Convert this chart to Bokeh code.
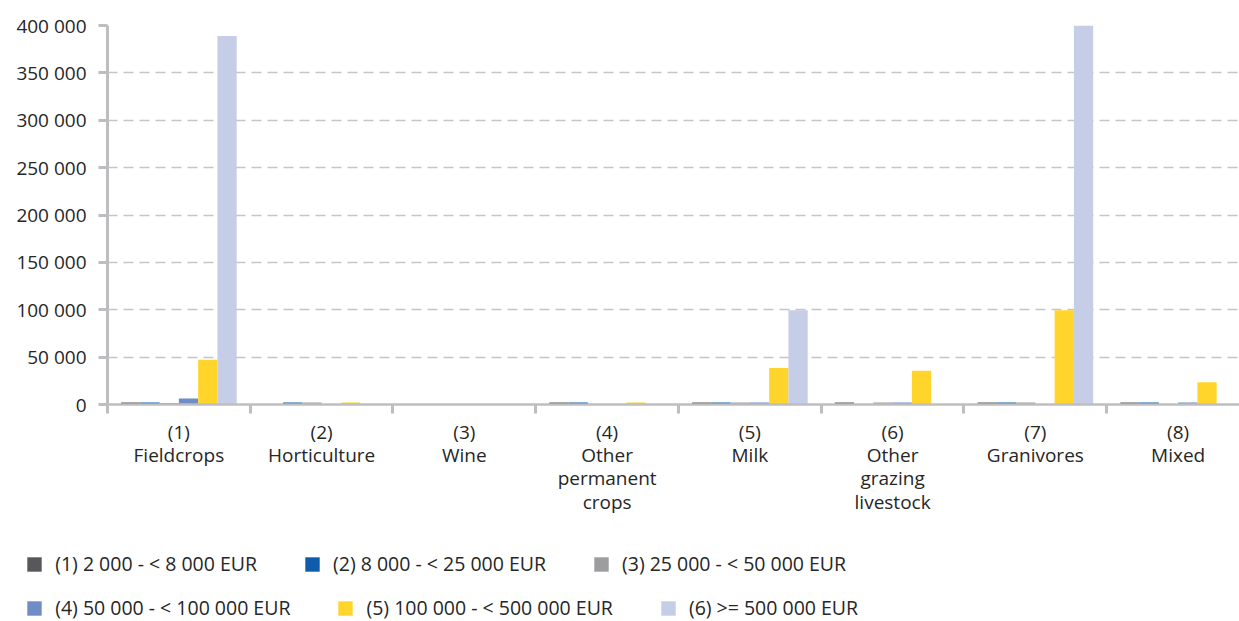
from bokeh.plotting import figure
from bokeh.layouts import column
from bokeh.models import Range1d, FixedTicker, Legend, LegendItem
from bokeh.embed import file_html
from bokeh.resources import INLINE

# ---------------- data ----------------
categories = ["(1)\nFieldcrops", "(2)\nHorticulture", "(3)\nWine",
              "(4)\nOther\npermanent\ncrops", "(5)\nMilk",
              "(6)\nOther\ngrazing\nlivestock", "(7)\nGranivores", "(8)\nMixed"]
series_labels = ["(1) 2 000 - < 8 000 EUR", "(2) 8 000 - < 25 000 EUR",
                 "(3) 25 000 - < 50 000 EUR", "(4) 50 000 - < 100 000 EUR",
                 "(5) 100 000 - < 500 000 EUR", "(6) >= 500 000 EUR"]
s1 = [2000, 0, 0, 2000, 2000, 2000, 2000, 2000]
s2 = [2000, 2000, 0, 2000, 2000, 0, 2000, 2000]
s3 = [1500, 2000, 0, 0, 2000, 2000, 2000, 0]
s4 = [6400, 0, 0, 0, 2000, 2000, 0, 2000]
s5 = [47200, 2000, 0, 2000, 38600, 35700, 99500, 23600]
s6 = [388800, 0, 0, 0, 99500, 0, 401000, 0]
y_ticks = [0, 50000, 100000, 150000, 200000, 250000, 300000, 350000, 400000]

series = [s1, s2, s3, s4, s5, s6]
colors = ["#58585A", "#0F5CAB", "#9D9D9F", "#6F8CC7", "#FFD52B", "#C6CDE6"]

FONT = "Open Sans"
FS = "19px"
TXT = "#262626"
AX = "#BEBEC1"

n = len(categories)
MAIN_H = 530
p = figure(width=1239, height=MAIN_H, output_backend="svg", toolbar_location=None,
           x_range=Range1d(0, 7.93), y_range=Range1d(0, 400000),
           min_border_left=107, min_border_top=25, min_border_right=0,
           min_border_bottom=MAIN_H - 404)
p.frame_align = False
p.outline_line_color = None
p.background_fill_color = "white"

bw = 0.135
for j, (vals, col) in enumerate(zip(series, colors)):
    xs = [i + 0.5 + (j - 2.5) * bw for i in range(n)]
    p.vbar(x=xs, top=vals, width=bw, fill_color=col, line_color=None)

# y axis
p.yaxis.ticker = FixedTicker(ticks=y_ticks)
p.yaxis.major_label_overrides = {v: f"{v:,}".replace(",", " ") for v in y_ticks}
p.yaxis.axis_line_color = AX
p.yaxis.axis_line_width = 3
p.yaxis.major_tick_line_color = AX
p.yaxis.major_tick_line_width = 3
p.yaxis.major_tick_out = 9
p.yaxis.major_tick_in = 0
p.yaxis.minor_tick_line_color = None
p.yaxis.major_label_standoff = 12
p.yaxis.major_label_text_font = FONT
p.yaxis.major_label_text_font_size = FS
p.yaxis.major_label_text_color = TXT

# x axis: labels at centers, ticks at boundaries
centers = [i + 0.5 for i in range(n)]
bounds = [float(i) for i in range(n + 1)]
p.xaxis.ticker = FixedTicker(ticks=centers, minor_ticks=bounds)
p.xaxis.major_label_overrides = {c: lab for c, lab in zip(centers, categories)}
p.xaxis.axis_line_color = AX
p.xaxis.axis_line_width = 2.5
p.xaxis.major_tick_line_color = None
p.xaxis.major_tick_out = 0
p.xaxis.major_tick_in = 0
p.xaxis.minor_tick_line_color = AX
p.xaxis.minor_tick_line_width = 3
p.xaxis.minor_tick_out = 9
p.xaxis.minor_tick_in = 0
p.xaxis.major_label_standoff = 5
p.xaxis.major_label_text_font = FONT
p.xaxis.major_label_text_font_size = FS
p.xaxis.major_label_text_color = TXT
p.xaxis.major_label_text_line_height = 0.9

p.xgrid.visible = False
p.ygrid.ticker = FixedTicker(ticks=y_ticks[1:])
p.ygrid.grid_line_color = "#C6C6C6"
p.ygrid.grid_line_width = 1.5
p.ygrid.grid_line_dash = "10 6"

# ---------------- legend strip ----------------
LEG_H = 621 - MAIN_H
lf = figure(width=1239, height=LEG_H, output_backend="svg", toolbar_location=None,
            x_range=Range1d(0, 1), y_range=Range1d(0, 1),
            min_border=0, min_border_left=0, min_border_right=0,
            min_border_top=0, min_border_bottom=0)
lf.frame_align = False
lf.axis.visible = False
lf.grid.visible = False
lf.outline_line_color = None
lf.border_fill_color = "white"

# zero-height stand-in renderers that only carry the legend colours
leg_renderers = [lf.vbar(x=[0.5], top=[0], width=0.1, fill_color=c, line_color=None) for c in colors]


def make_legend(idx, loc):
    leg = Legend(items=[LegendItem(label=series_labels[k], renderers=[leg_renderers[k]]) for k in idx],
                 location=loc, orientation="horizontal")
    leg.border_line_color = None
    leg.background_fill_alpha = 0
    leg.padding = 0
    leg.margin = 0
    leg.spacing = 46
    leg.glyph_width = 18
    leg.glyph_height = 18
    leg.label_standoff = 12
    leg.label_text_font = FONT
    leg.label_text_font_size = "19.5px"
    leg.label_text_color = TXT
    return leg


lf.add_layout(make_legend([0, 1, 2], (25.2, 44)))
lf.add_layout(make_legend([3, 4, 5], (25.2, 0)))

layout = column(p, lf, spacing=0)
open("out.html", "w").write(file_html(layout, INLINE))
